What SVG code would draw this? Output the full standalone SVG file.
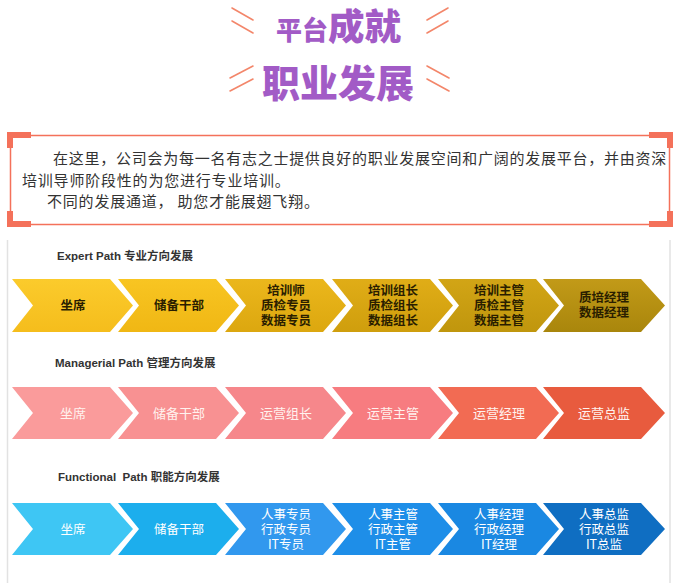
<svg xmlns="http://www.w3.org/2000/svg" width="682" height="583" viewBox="0 0 682 583">
<style>
.title{font-family:"Noto Sans CJK SC","Noto Sans",sans-serif;font-weight:900;fill:#a25bc6;}
.deco{stroke:#f3866a;stroke-width:1.6;fill:none;stroke-linecap:round;}
.para{font-family:"Noto Sans CJK SC","Noto Sans",sans-serif;font-size:15px;fill:#333;letter-spacing:0.8px;}
.frame{fill:none;stroke:#f4715a;stroke-width:1.5;}
.corner{fill:#f4715a;}
.head{font-family:"Liberation Sans","Noto Sans CJK SC",sans-serif;font-size:11.5px;font-weight:bold;fill:#333;}
.t1{font-family:"Noto Sans CJK SC",sans-serif;font-size:12.5px;font-weight:bold;fill:#2a1e00;text-anchor:middle;}
.t2{font-family:"Noto Sans CJK SC",sans-serif;font-size:13px;fill:#fff2ee;text-anchor:middle;}
.t3{font-family:"Noto Sans CJK SC","Liberation Sans",sans-serif;font-size:12.5px;fill:#ffffff;text-anchor:middle;}
.edge{stroke:#e2e2e2;stroke-width:1.5;}
</style>
<defs>
<linearGradient id="y1" x1="0" y1="0" x2="0" y2="1"><stop offset="0" stop-color="#fbcb2c"/><stop offset="1" stop-color="#f5bd1c"/></linearGradient>
<linearGradient id="y2" x1="0" y1="0" x2="0" y2="1"><stop offset="0" stop-color="#f8c522"/><stop offset="1" stop-color="#f0b714"/></linearGradient>
<linearGradient id="y3" x1="0" y1="0" x2="0" y2="1"><stop offset="0" stop-color="#ebb71c"/><stop offset="1" stop-color="#dca70f"/></linearGradient>
<linearGradient id="y4" x1="0" y1="0" x2="0" y2="1"><stop offset="0" stop-color="#e0ad17"/><stop offset="1" stop-color="#cf9e0d"/></linearGradient>
<linearGradient id="y5" x1="0" y1="0" x2="0" y2="1"><stop offset="0" stop-color="#d2a516"/><stop offset="1" stop-color="#c0960d"/></linearGradient>
<linearGradient id="y6" x1="0" y1="0" x2="0" y2="1"><stop offset="0" stop-color="#c29a18"/><stop offset="1" stop-color="#a9860c"/></linearGradient>
</defs>
<rect width="682" height="583" fill="#ffffff"/>
<g id="title">
<line class="deco" x1="232" y1="8" x2="253" y2="20"/>
<line class="deco" x1="232" y1="21" x2="253" y2="33"/>
<line class="deco" x1="427" y1="20" x2="448" y2="8"/>
<line class="deco" x1="427" y1="33" x2="448" y2="21"/>
<line class="deco" x1="230" y1="78" x2="253" y2="66"/>
<line class="deco" x1="230" y1="91" x2="253" y2="79"/>
<line class="deco" x1="427" y1="66" x2="449" y2="78"/>
<line class="deco" x1="427" y1="79" x2="449" y2="91"/>
<text class="title" x="276" y="40" font-size="26">平台<tspan font-size="36.5">成就</tspan></text>
<text class="title" x="338" y="97" font-size="38" text-anchor="middle">职业发展</text>
</g>
<g id="intro">
<rect class="frame" x="10.5" y="135.5" width="659" height="89"/>
<path class="corner" d="M7 132H31V138H13V148H7Z"/>
<path class="corner" d="M7 227H31V221H13V211H7Z"/>
<path class="corner" d="M673 132H649V138H667V148H673Z"/>
<path class="corner" d="M673 227H649V221H667V211H673Z"/>
<text class="para" x="53" y="164" textLength="614" lengthAdjust="spacing">在这里，公司会为每一名有志之士提供良好的职业发展空间和广阔的发展平台，并由资深</text>
<text class="para" x="22" y="186">培训导师阶段性的为您进行专业培训。</text>
<text class="para" x="47" y="207" xml:space="preserve">不同的发展通道， 助您才能展翅飞翔。</text>
</g>
<g id="frame-edges">
<line class="edge" x1="7.5" y1="240" x2="7.5" y2="583"/>
<line class="edge" x1="670" y1="240" x2="670" y2="583"/>
</g>
<g id="expert">
<text class="head" x="57" y="260">Expert Path 专业方向发展</text>
<g id="e1"><polygon points="12,279 110,279 133,305.5 110,332 12,332 33,305.5" fill="url(#y1)"/><text class="t1" x="73" y="310">坐席</text></g>
<g id="e2"><polygon points="118,279 216,279 239,305.5 216,332 118,332 139,305.5" fill="url(#y2)"/><text class="t1" x="179" y="310">储备干部</text></g>
<g id="e3"><polygon points="225,279 323,279 346,305.5 323,332 225,332 246,305.5" fill="url(#y3)"/><text class="t1" x="286" y="295">培训师<tspan x="286" dy="15">质检专员</tspan><tspan x="286" dy="15">数据专员</tspan></text></g>
<g id="e4"><polygon points="332,279 430,279 453,305.5 430,332 332,332 353,305.5" fill="url(#y4)"/><text class="t1" x="393" y="295">培训组长<tspan x="393" dy="15">质检组长</tspan><tspan x="393" dy="15">数据组长</tspan></text></g>
<g id="e5"><polygon points="438,279 536,279 559,305.5 536,332 438,332 459,305.5" fill="url(#y5)"/><text class="t1" x="499" y="295">培训主管<tspan x="499" dy="15">质检主管</tspan><tspan x="499" dy="15">数据主管</tspan></text></g>
<g id="e6"><polygon points="543,279 641,279 665,305.5 641,332 543,332 564,305.5" fill="url(#y6)"/><text class="t1" x="604" y="302">质培经理<tspan x="604" dy="15">数据经理</tspan></text></g>
</g>
<g id="managerial">
<text class="head" x="55" y="367">Managerial Path 管理方向发展</text>
<g id="m1"><polygon points="12,387 110,387 133,413 110,439 12,439 33,413" fill="#fa9b9b"/><text class="t2" x="73" y="418">坐席</text></g>
<g id="m2"><polygon points="118,387 216,387 239,413 216,439 118,439 139,413" fill="#f89192"/><text class="t2" x="179" y="418">储备干部</text></g>
<g id="m3"><polygon points="225,387 323,387 346,413 323,439 225,439 246,413" fill="#f6878b"/><text class="t2" x="286" y="418">运营组长</text></g>
<g id="m4"><polygon points="332,387 430,387 453,413 430,439 332,439 353,413" fill="#f77c80"/><text class="t2" x="393" y="418">运营主管</text></g>
<g id="m5"><polygon points="438,387 536,387 559,413 536,439 438,439 459,413" fill="#f26b53"/><text class="t2" x="499" y="418">运营经理</text></g>
<g id="m6"><polygon points="543,387 641,387 665,413 641,439 543,439 564,413" fill="#e85b3e"/><text class="t2" x="604" y="418">运营总监</text></g>
</g>
<g id="functional">
<text class="head" x="58" y="481" xml:space="preserve">Functional  Path 职能方向发展</text>
<g id="f1"><polygon points="12,503 110,503 133,529 110,555 12,555 33,529" fill="#3ec6f4"/><text class="t3" x="73" y="534">坐席</text></g>
<g id="f2"><polygon points="118,503 216,503 239,529 216,555 118,555 139,529" fill="#1caeed"/><text class="t3" x="179" y="534">储备干部</text></g>
<g id="f3"><polygon points="225,503 323,503 346,529 323,555 225,555 246,529" fill="#3198ee"/><text class="t3" x="286" y="519">人事专员<tspan x="286" dy="15">行政专员</tspan><tspan x="286" dy="15">IT专员</tspan></text></g>
<g id="f4"><polygon points="332,503 430,503 453,529 430,555 332,555 353,529" fill="#1e8ee8"/><text class="t3" x="393" y="519">人事主管<tspan x="393" dy="15">行政主管</tspan><tspan x="393" dy="15">IT主管</tspan></text></g>
<g id="f5"><polygon points="438,503 536,503 559,529 536,555 438,555 459,529" fill="#1a88e2"/><text class="t3" x="499" y="519">人事经理<tspan x="499" dy="15">行政经理</tspan><tspan x="499" dy="15">IT经理</tspan></text></g>
<g id="f6"><polygon points="543,503 641,503 665,529 641,555 543,555 564,529" fill="#0f6ec2"/><text class="t3" x="604" y="519">人事总监<tspan x="604" dy="15">行政总监</tspan><tspan x="604" dy="15">IT总监</tspan></text></g>
</g>
</svg>
